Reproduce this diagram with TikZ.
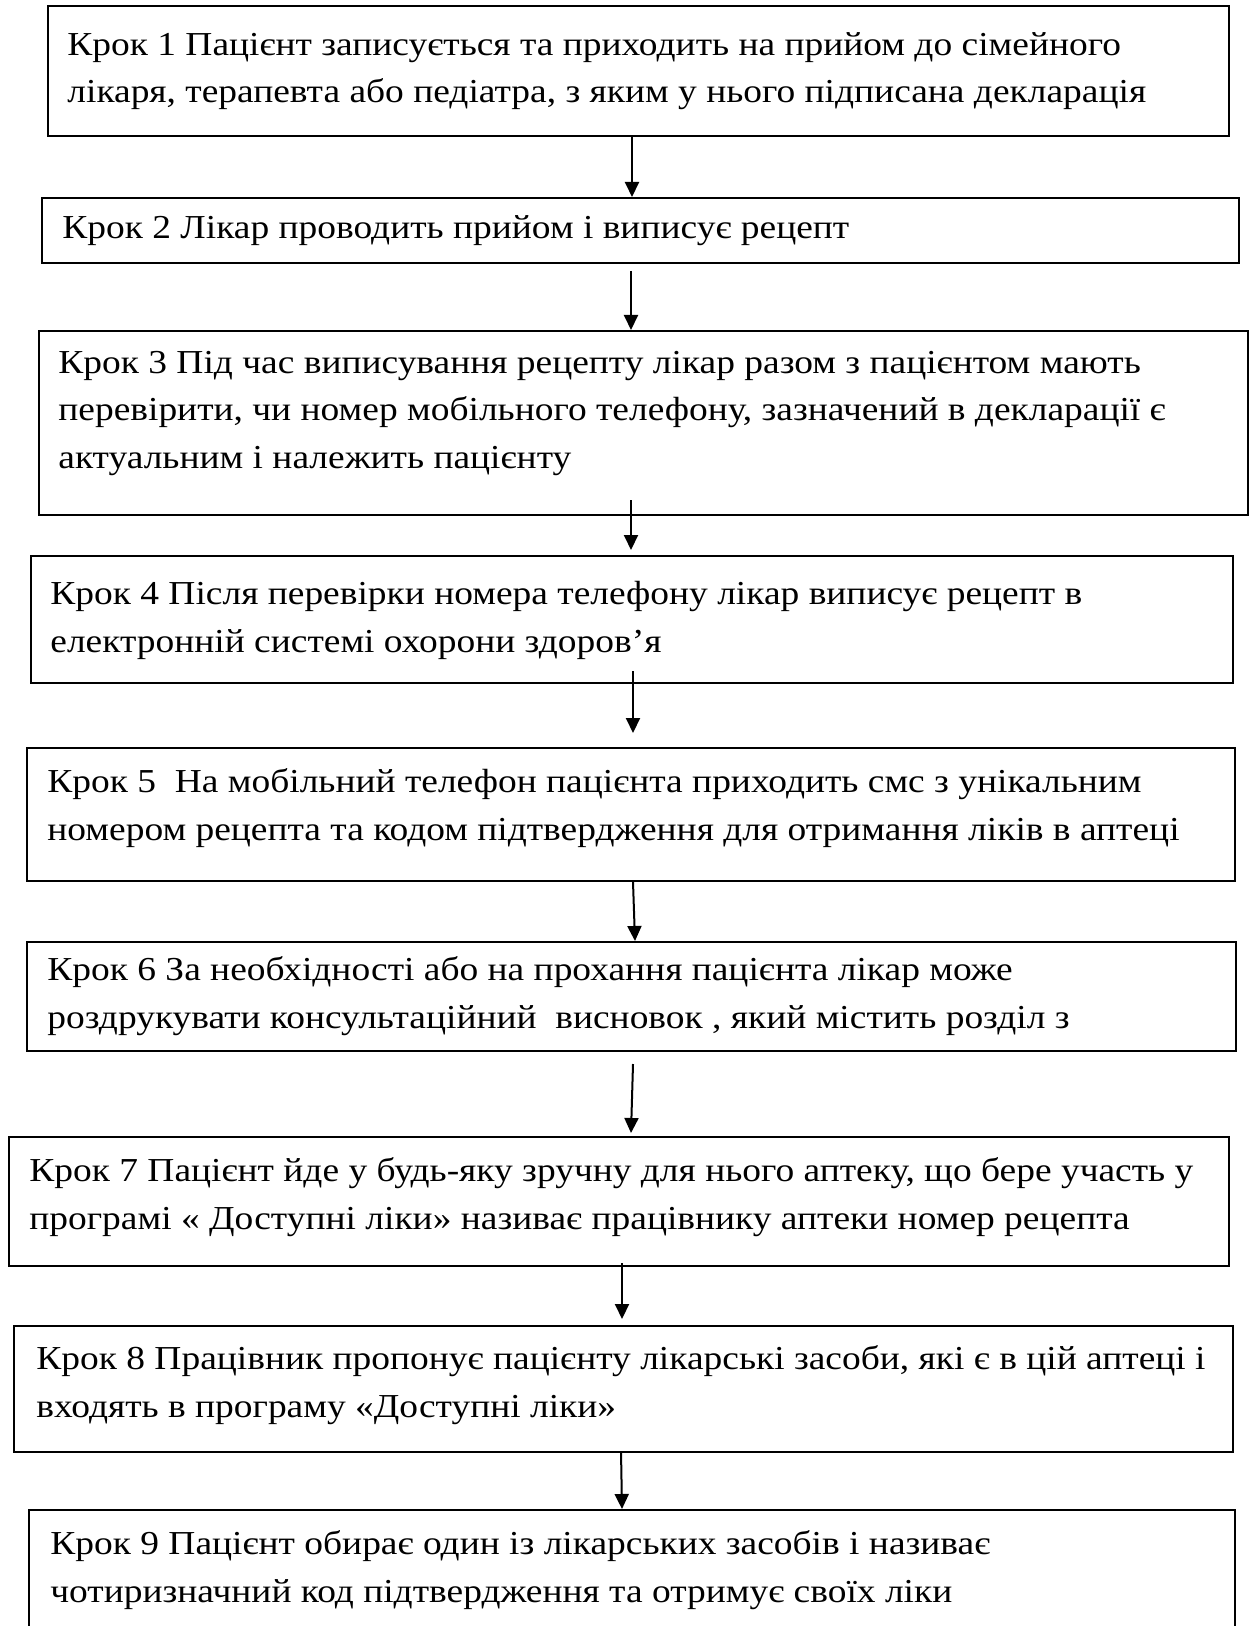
\documentclass[tikz,border=0pt]{standalone}
\usepackage{fontspec}
\setmainfont{Liberation Serif}[FakeStretch=1.118]
\usetikzlibrary{calc,arrows.meta}
\tikzset{stepbox/.style={draw, line width=1pt, inner sep=0pt, anchor=north west},
steptext/.style={anchor=base west, inner sep=0pt, align=left, font=\fontsize{16.75}{23.75}\selectfont},
steparrow/.style={line width=1pt, -{Triangle[length=7.5pt,width=7pt]}},}

\begin{document}
\begin{tikzpicture}[x=0.5pt,y=-0.5pt]
\useasboundingbox (0,0) rectangle (1248,1626);
\node [stepbox, minimum width=590.5pt, minimum height=65pt] (s1) at (  47,   5) {};
\node [stepbox, minimum width=598.5pt, minimum height=32.5pt] (s2) at (  41, 197) {};
\node [stepbox, minimum width=604.5pt, minimum height=92pt] (s3) at (  38, 330) {};
\node [stepbox, minimum width=601pt, minimum height=63.5pt] (s4) at (  30, 555) {};
\node [stepbox, minimum width=604pt, minimum height=66.5pt] (s5) at (  26, 747) {};
\node [stepbox, minimum width=604.5pt, minimum height=54.5pt] (s6) at (  26, 941) {};
\node [stepbox, minimum width=610pt, minimum height=64.5pt] (s7) at (   8,1136) {};
\node [stepbox, minimum width=609.5pt, minimum height=63pt] (s8) at (  13,1325) {};
\node [stepbox, minimum width=603pt, minimum height=85.5pt] (s9) at (  28,1509) {};
\node [steptext] (t1) at (  67, 103) {Крок 1 Пацієнт записується та приходить на прийом до сімейного\\лікаря, терапевта або педіатра, з яким у нього підписана декларація};
\node [steptext] (t2) at (  62, 239) {Крок 2 Лікар проводить прийом і виписує рецепт};
\node [steptext] (t3) at (  58, 468) {Крок 3 Під час виписування рецепту лікар разом з пацієнтом мають\\перевірити, чи номер мобільного телефону, зазначений в декларації є\\актуальним і належить пацієнту};
\node [steptext] (t4) at (  50, 652) {Крок 4 Після перевірки номера телефону лікар виписує рецепт в\\електронній системі охорони здоров’я};
\node [steptext] (t5) at (  47, 840) {Крок 5\ \ На мобільний телефон пацієнта приходить смс з унікальним\\номером рецепта та кодом підтвердження для отримання ліків в аптеці};
\node [steptext] (t6) at (  47,1028) {Крок 6 За необхідності або на прохання пацієнта лікар може\\роздрукувати консультаційний\ \ висновок , який містить розділ з};
\node [steptext] (t7) at (  29,1229) {Крок 7 Пацієнт йде у будь-яку зручну для нього аптеку, що бере участь у\\програмі « Доступні ліки» називає працівнику аптеки номер рецепта};
\node [steptext] (t8) at (  36,1417) {Крок 8 Працівник пропонує пацієнту лікарські засоби, які є в цій аптеці і\\входять в програму «Доступні ліки»};
\node [steptext] (t9) at (  50,1602) {Крок 9 Пацієнт обирає один із лікарських засобів і називає\\чотиризначний код підтвердження та отримує своїх ліки};
\draw [steparrow] ($(s1.south west)+(585,0)$) -- ($(s2.north west)+(591,0)$);
\draw [steparrow] ($(s2.south west)+(590,7)$) -- ($(s3.north west)+(593,0)$);
\draw [steparrow] ($(s3.south west)+(593,-16)$) -- ($(s4.north west)+(601,-5)$);
\draw [steparrow] ($(s4.south west)+(603,-13)$) -- ($(s5.north west)+(607,-14)$);
\draw [steparrow] ($(s5.south west)+(607,0)$) -- ($(s6.north west)+(609,0)$);
\draw [steparrow] ($(s6.south west)+(607,12)$) -- ($(s7.north west)+(623,-3)$);
\draw [steparrow] ($(s7.south west)+(614,-4)$) -- ($(s8.north west)+(609,-6)$);
\draw [steparrow] ($(s8.south west)+(608,-2)$) -- ($(s9.north west)+(594,0)$);
\end{tikzpicture}
\end{document}
